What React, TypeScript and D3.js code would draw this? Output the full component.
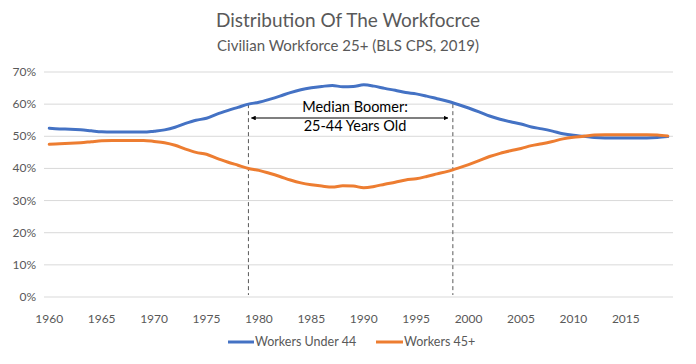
import React from 'react';
import * as d3 from 'd3';

// years on the category axis
const years = d3.range(1960, 2020);

// share of civilian workforce 25+ (%)
const under44 = [
  52.5, 52.3, 52.2, 52.0, 51.7, 51.4, 51.3, 51.3, 51.3, 51.3,
  51.6, 52.0, 52.8, 54.0, 55.0, 55.6, 56.9, 58.0, 59.0, 60.0,
  60.6, 61.5, 62.5, 63.6, 64.5, 65.1, 65.5, 65.8, 65.4, 65.5,
  66.0, 65.6, 64.9, 64.3, 63.6, 63.2, 62.5, 61.7, 60.9, 59.9,
  58.8, 57.6, 56.3, 55.3, 54.5, 53.8, 52.9, 52.3, 51.6, 50.8,
  50.3, 50.0, 49.6, 49.5, 49.5, 49.5, 49.5, 49.5, 49.6, 49.9,
];
const over45 = [
  47.5, 47.7, 47.8, 48.0, 48.3, 48.6, 48.7, 48.7, 48.7, 48.7,
  48.4, 48.0, 47.2, 46.0, 45.0, 44.4, 43.1, 42.0, 41.0, 40.0,
  39.4, 38.5, 37.5, 36.4, 35.5, 34.9, 34.5, 34.2, 34.6, 34.5,
  34.0, 34.4, 35.1, 35.7, 36.4, 36.8, 37.5, 38.3, 39.1, 40.1,
  41.2, 42.4, 43.7, 44.7, 45.5, 46.2, 47.1, 47.7, 48.4, 49.2,
  49.7, 50.0, 50.4, 50.5, 50.5, 50.5, 50.5, 50.5, 50.4, 50.1,
];

const seriesNames = ['Workers Under 44', 'Workers 45+'];
const yTicks = [0, 10, 20, 30, 40, 50, 60, 70];
const xLabelYears = [1960, 1965, 1970, 1975, 1980, 1985, 1990, 1995, 2000, 2005, 2010, 2015];
const boomerSpan = [1979, 1998.5];

const width = 696;
const height = 364;
const margin = { top: 72, right: 23, bottom: 67, left: 44 };
const font = 'Lato, "Open Sans", sans-serif';
const colors = ['#4472C4', '#ED7D31'];

const App = () => {
  const x = d3.scaleLinear()
    .domain([1959.5, 2019.5])
    .range([margin.left, width - margin.right]);

  const y = d3.scaleLinear()
    .domain([0, 70])
    .range([height - margin.bottom, margin.top]);

  const line = d3.line<number>()
    .x((_, i) => x(years[i]))
    .y(d => y(d))
    .curve(d3.curveMonotoneX);

  const arrowY = 118;

  return (
    <svg width={width} height={height} style={{ position: 'absolute', left: 0, top: 0, background: '#fff' }}>
      <defs>
        <marker id="arr" viewBox="0 0 10 10" refX="9" refY="5" markerWidth="4" markerHeight="4" orient="auto-start-reverse">
          <path d="M0,0 L10,5 L0,10 z" fill="#000" />
        </marker>
      </defs>

      <text x={348} y={27} textAnchor="middle" fontFamily={font} fontSize={19} fill="#595959">
        Distribution Of The Workfocrce
      </text>
      <text x={348} y={51} textAnchor="middle" fontFamily={font} fontSize={15} fill="#595959">
        Civilian Workforce 25+ (BLS CPS, 2019)
      </text>

      {/* gridlines + y labels */}
      {yTicks.map(t => (
        <g key={t}>
          <line x1={margin.left} x2={width - margin.right} y1={y(t)} y2={y(t)} stroke="#d9d9d9" strokeWidth={1} />
          <text x={36} y={y(t) + 4} textAnchor="end" fontFamily={font} fontSize={12} fill="#595959">
            {t}%
          </text>
        </g>
      ))}

      {/* x labels */}
      {xLabelYears.map(yr => (
        <text key={yr} x={x(yr)} y={323} textAnchor="middle" fontFamily={font} fontSize={12} fill="#595959">
          {yr}
        </text>
      ))}

      {/* dashed boomer markers */}
      {boomerSpan.map(yr => (
        <line key={yr} x1={x(yr)} x2={x(yr)} y1={y(60)} y2={y(0) - 2} stroke="#595959" strokeWidth={1} strokeDasharray="4,3" />
      ))}

      {/* series */}
      {[under44, over45].map((s, i) => (
        <path key={i} d={line(s) || ''} fill="none" stroke={colors[i]} strokeWidth={3} strokeLinejoin="round" strokeLinecap="round" />
      ))}

      {/* annotation */}
      <line x1={x(boomerSpan[0]) + 3} x2={x(boomerSpan[1]) - 5} y1={arrowY} y2={arrowY} stroke="#000" strokeWidth={1.2}
        markerStart="url(#arr)" markerEnd="url(#arr)" />
      <text x={355} y={112} textAnchor="middle" fontFamily={font} fontSize={14.5} fill="#000">Median Boomer:</text>
      <text x={355} y={131} textAnchor="middle" fontFamily={font} fontSize={14.5} fill="#000">25-44 Years Old</text>

      {/* legend */}
      <g fontFamily={font} fontSize={12.5} fill="#595959">
        <line x1={228} x2={254} y1={342} y2={342} stroke={colors[0]} strokeWidth={3} />
        <text x={255} y={346}>{seriesNames[0]}</text>
        <line x1={376} x2={403} y1={342} y2={342} stroke={colors[1]} strokeWidth={3} />
        <text x={404} y={346}>{seriesNames[1]}</text>
      </g>
    </svg>
  );
};

export default App;
